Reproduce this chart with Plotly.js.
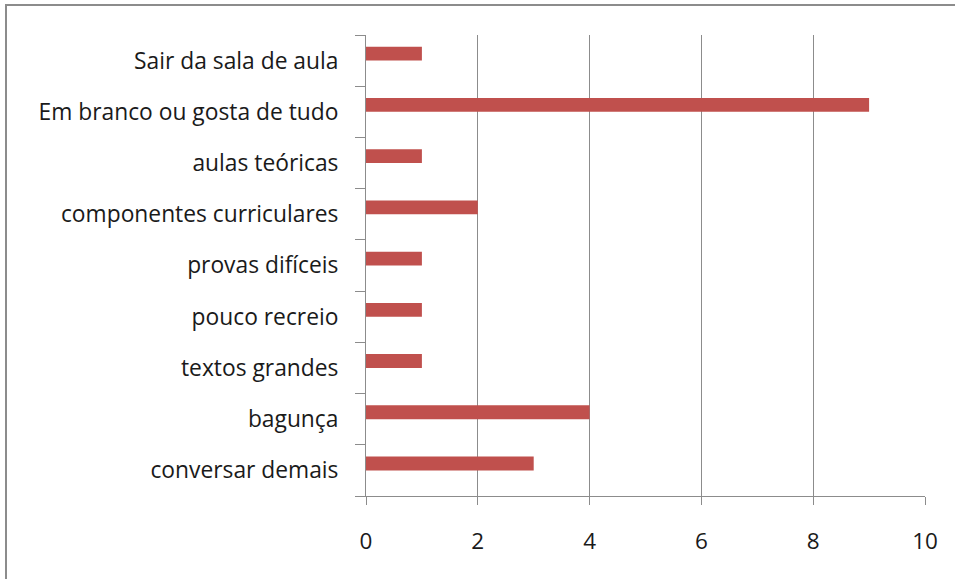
<!DOCTYPE html>
<html><head><meta charset="utf-8">
<script src="https://cdn.plot.ly/plotly-3.0.1.min.js"></script>
<style>
html,body{margin:0;padding:0;background:#fff;}
#frame{position:absolute;left:5px;top:4px;width:960px;height:600px;border-left:2px solid #8c8c8c;border-top:2px solid #8c8c8c;pointer-events:none;z-index:5;}
#chart{position:absolute;left:0;top:0;width:955px;height:579px;}
</style>
</head><body>
<div id="chart"></div><div id="frame"></div>
<script>
const categories = ["conversar demais","bagunça","textos grandes","pouco recreio","provas difíceis","componentes curriculares","aulas teóricas","Em branco ou gosta de tudo","Sair da sala de aula"];
const values = [3,4,1,1,1,2,1,9,1];
const xTicks = [0,2,4,6,8,10];

const trace = {
  type:'bar', orientation:'h', x:values, y:categories,
  width:0.27, offset:0.0, marker:{color:'#C0504D', line:{width:0}}, hoverinfo:'skip'
};
const layout = {
  width:955, height:579,
  margin:{l:366,r:30,t:35,b:83},
  paper_bgcolor:'#fff', plot_bgcolor:'#fff',
  font:{family:'Open Sans, sans-serif', size:22.8, color:'#1a1a1a'},
  showlegend:false,
  xaxis:{range:[0,10], tickvals:xTicks, ticktext:xTicks.map(String), showgrid:true, gridcolor:'#8c8c8c', gridwidth:1,
    zeroline:false, showline:true, linecolor:'#8c8c8c', linewidth:1, ticks:'outside', ticklen:8, tickcolor:'#8c8c8c',
    ticklabelstandoff:17, tickfont:{size:22.5}},
  yaxis:{type:'category', categoryorder:'array', categoryarray:categories, showgrid:false, zeroline:false,
    showline:true, linecolor:'#8c8c8c', linewidth:1, ticks:'outside', tickson:'boundaries', ticklen:10, tickcolor:'#8c8c8c',
    ticklabelstandoff:22}
};
Plotly.newPlot('chart',[trace],layout,{displayModeBar:false,staticPlot:true});
</script>
</body></html>
